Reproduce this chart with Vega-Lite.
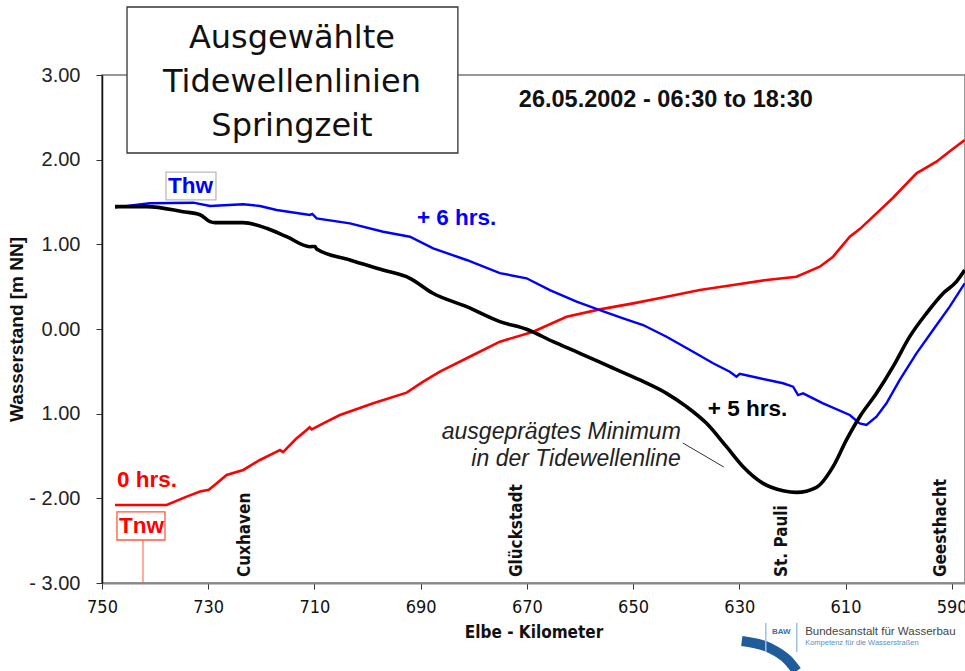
{
  "$schema": "https://vega.github.io/schema/vega-lite/v6.json",
  "width": 863,
  "height": 508,
  "autosize": {"type": "none"},
  "padding": {"left": 102, "top": 75, "right": 0, "bottom": 88},
  "background": "white",
  "config": {
    "view": {"stroke": "#777777", "strokeWidth": 1.5},
    "font": "Liberation Sans"
  },
  "datasets": {
    "red": [
      {"km": 747.55, "w": -2.079}, {"km": 737.82, "w": -2.079}, {"km": 734.06, "w": -1.98},
      {"km": 731.55, "w": -1.92}, {"km": 729.9, "w": -1.9}, {"km": 728.73, "w": -1.84},
      {"km": 726.53, "w": -1.724}, {"km": 723.4, "w": -1.665}, {"km": 720.26, "w": -1.547},
      {"km": 717.75, "w": -1.468}, {"km": 716.5, "w": -1.43}, {"km": 715.9, "w": -1.455},
      {"km": 713.5, "w": -1.3}, {"km": 711.47, "w": -1.193}, {"km": 710.9, "w": -1.16},
      {"km": 710.5, "w": -1.185}, {"km": 707.7, "w": -1.095}, {"km": 705.2, "w": -1.016},
      {"km": 698.93, "w": -0.878}, {"km": 692.64, "w": -0.752}, {"km": 689.52, "w": -0.622},
      {"km": 686.38, "w": -0.504}, {"km": 680.11, "w": -0.307}, {"km": 675.08, "w": -0.15},
      {"km": 668.81, "w": -0.032}, {"km": 662.53, "w": 0.145}, {"km": 656.26, "w": 0.232},
      {"km": 649.99, "w": 0.303}, {"km": 643.7, "w": 0.382}, {"km": 637.44, "w": 0.461},
      {"km": 631.17, "w": 0.52}, {"km": 624.88, "w": 0.579}, {"km": 619.23, "w": 0.618},
      {"km": 614.85, "w": 0.736}, {"km": 612.34, "w": 0.854}, {"km": 609.2, "w": 1.09},
      {"km": 607.32, "w": 1.18}, {"km": 604.17, "w": 1.366}, {"km": 601.05, "w": 1.55},
      {"km": 596.64, "w": 1.839}, {"km": 592.88, "w": 1.976}, {"km": 590.06, "w": 2.114},
      {"km": 587.55, "w": 2.232}
    ],
    "blue": [
      {"km": 747.55, "w": 1.437}, {"km": 740.96, "w": 1.485}, {"km": 732.81, "w": 1.492},
      {"km": 729.66, "w": 1.453}, {"km": 723.4, "w": 1.473}, {"km": 720.26, "w": 1.453},
      {"km": 717.12, "w": 1.406}, {"km": 710.85, "w": 1.347}, {"km": 710.4, "w": 1.36},
      {"km": 709.58, "w": 1.307}, {"km": 703.32, "w": 1.248}, {"km": 697.05, "w": 1.149},
      {"km": 692.02, "w": 1.09}, {"km": 687.64, "w": 0.953}, {"km": 681.35, "w": 0.815},
      {"km": 675.08, "w": 0.66}, {"km": 670.06, "w": 0.599}, {"km": 665.67, "w": 0.46},
      {"km": 660.64, "w": 0.323}, {"km": 656.26, "w": 0.224}, {"km": 651.87, "w": 0.126},
      {"km": 648.11, "w": 0.047}, {"km": 643.7, "w": -0.091}, {"km": 638.7, "w": -0.268},
      {"km": 634.93, "w": -0.405}, {"km": 631.79, "w": -0.504}, {"km": 630.53, "w": -0.563},
      {"km": 629.91, "w": -0.53}, {"km": 626.14, "w": -0.582}, {"km": 621.76, "w": -0.641},
      {"km": 619.87, "w": -0.681}, {"km": 618.93, "w": -0.78}, {"km": 617.99, "w": -0.76},
      {"km": 614.23, "w": -0.878}, {"km": 609.2, "w": -1.016}, {"km": 607.32, "w": -1.114},
      {"km": 606.06, "w": -1.134}, {"km": 604.17, "w": -1.036}, {"km": 602.29, "w": -0.878},
      {"km": 599.79, "w": -0.602}, {"km": 596.64, "w": -0.287}, {"km": 593.52, "w": -0.012},
      {"km": 590.38, "w": 0.264}, {"km": 587.55, "w": 0.54}
    ],
    "black": [
      {"km": 747.55, "w": 1.445}, {"km": 741.59, "w": 1.445}, {"km": 734.75, "w": 1.386},
      {"km": 731.55, "w": 1.35}, {"km": 729.67, "w": 1.268}, {"km": 728.73, "w": 1.256},
      {"km": 723.46, "w": 1.256}, {"km": 719.0, "w": 1.19}, {"km": 715.23, "w": 1.09},
      {"km": 710.85, "w": 0.972}, {"km": 709.9, "w": 0.975}, {"km": 709.59, "w": 0.945},
      {"km": 703.32, "w": 0.815}, {"km": 697.11, "w": 0.697}, {"km": 692.02, "w": 0.599},
      {"km": 687.69, "w": 0.422}, {"km": 681.35, "w": 0.264}, {"km": 675.08, "w": 0.087},
      {"km": 670.06, "w": -0.003}, {"km": 665.05, "w": -0.15}, {"km": 660.02, "w": -0.287},
      {"km": 654.38, "w": -0.445}, {"km": 648.73, "w": -0.602}, {"km": 643.7, "w": -0.76},
      {"km": 639.94, "w": -0.917}, {"km": 636.17, "w": -1.114}, {"km": 632.41, "w": -1.39},
      {"km": 629.28, "w": -1.626}, {"km": 625.52, "w": -1.823}, {"km": 621.76, "w": -1.91},
      {"km": 619.23, "w": -1.93}, {"km": 615.47, "w": -1.87}, {"km": 612.34, "w": -1.626},
      {"km": 609.82, "w": -1.31}, {"km": 607.32, "w": -1.036}, {"km": 604.17, "w": -0.76},
      {"km": 601.05, "w": -0.445}, {"km": 597.91, "w": -0.09}, {"km": 594.76, "w": 0.185},
      {"km": 591.64, "w": 0.42}, {"km": 589.12, "w": 0.559}, {"km": 587.55, "w": 0.697}
    ]
  },
  "encoding": {
    "x": {
      "field": "km",
      "type": "quantitative",
      "scale": {"domain": [750, 587.5], "nice": false, "zero": false},
      "axis": {
        "title": "Elbe - Kilometer",
        "values": [750, 730, 710, 690, 670, 650, 630, 610, 590],
        "format": "d",
        "grid": false,
        "labelFont": "DejaVu Sans Condensed, Roboto, sans-serif",
        "labelFontSize": 18,
        "labelColor": "#111111",
        "labelPadding": 9,
        "labelFlush": false,
        "labelOverlap": false,
        "tickSize": 6,
        "tickColor": "#333333",
        "tickWidth": 1,
        "domainColor": "#888888",
        "domainWidth": 2,
        "titleFont": "DejaVu Sans Condensed, Roboto, sans-serif",
        "titleFontSize": 17,
        "titleFontWeight": "bold",
        "titleColor": "#111111",
        "titlePadding": 8
      }
    },
    "y": {
      "field": "w",
      "type": "quantitative",
      "scale": {"domain": [-3, 3], "nice": false, "zero": false},
      "axis": {
        "title": "Wasserstand [m NN]",
        "values": [-3, -2, -1, 0, 1, 2, 3],
        "labelExpr": "datum.value < -1.5 ? '- ' + format(abs(datum.value), '.2f') : format(abs(datum.value), '.2f')",
        "grid": false,
        "labelFont": "Liberation Sans",
        "labelFontSize": 20,
        "labelColor": "#222222",
        "labelPadding": 16,
        "labelFlush": false,
        "tickSize": 6,
        "tickColor": "#333333",
        "domainColor": "#111111",
        "domainWidth": 1.5,
        "titleFont": "Liberation Sans",
        "titleFontSize": 19,
        "titleFontWeight": "bold",
        "titleColor": "#111111",
        "titlePadding": 2
      }
    }
  },
  "layer": [
    {
      "data": {"values": [{"km": 590}]},
      "mark": {"type": "rule", "color": "#444444", "strokeWidth": 1.5},
      "encoding": {"y": {"datum": -3}, "y2": {"datum": 3}}
    },
    {
      "data": {"values": [
        {"kind": "title", "km": 745.29, "km2": 682.99, "w": 3.803, "w2": 2.079},
        {"kind": "thw", "km": 737.95, "km2": 728.54, "w": 1.854, "w2": 1.524},
        {"kind": "tnw", "km": 747.18, "km2": 738.14, "w": -2.161, "w2": -2.492}
      ]},
      "mark": {"type": "rect", "fill": "white", "strokeWidth": 1.3},
      "encoding": {
        "x2": {"field": "km2"},
        "y2": {"field": "w2"},
        "stroke": {"field": "kind", "type": "nominal", "scale": {"domain": ["title", "thw", "tnw"], "range": ["#333333", "#bbbbbb", "#ff5a3c"]}, "legend": null}
      }
    },
    {
      "data": {"values": [{"km": 742.28, "w": -2.492, "w2": -3}]},
      "mark": {"type": "rule", "color": "#ff5a3c", "strokeWidth": 1},
      "encoding": {"y2": {"field": "w2"}}
    },
    {
      "data": {"values": [{"km": 640.64, "w": -1.346}, {"km": 632.92, "w": -1.63}]},
      "mark": {"type": "line", "color": "#333333", "strokeWidth": 1}
    },
    {
      "data": {"name": "red"},
      "mark": {"type": "line", "color": "#ff0000", "strokeWidth": 2.6}
    },
    {
      "data": {"name": "blue"},
      "mark": {"type": "line", "color": "#0000ff", "strokeWidth": 2.4}
    },
    {
      "data": {"name": "black"},
      "mark": {"type": "line", "color": "#000000", "strokeWidth": 3.6, "interpolate": "monotone"}
    },
    {
      "data": {"values": [
        {"label": "Ausgewählte", "km": 714.24, "w": 3.319},
        {"label": "Tidewellenlinien", "km": 714.24, "w": 2.799},
        {"label": "Springzeit", "km": 714.24, "w": 2.28}
      ]},
      "mark": {"type": "text", "font": "DejaVu Sans", "fontSize": 32, "color": "#111111", "align": "center", "baseline": "alphabetic"},
      "encoding": {"text": {"field": "label"}}
    },
    {
      "data": {"values": [{"label": "26.05.2002 - 06:30 to 18:30", "km": 643.84, "w": 2.705}]},
      "mark": {"type": "text", "font": "Liberation Sans", "fontSize": 23.5, "fontWeight": "bold", "color": "#111111", "align": "center", "baseline": "middle"},
      "encoding": {"text": {"field": "label"}}
    },
    {
      "data": {"values": [
        {"label": "Thw", "km": 737.58, "w": 1.689, "series": "blue"},
        {"label": "+ 6 hrs.", "km": 690.71, "w": 1.311, "series": "blue"},
        {"label": "+ 5 hrs.", "km": 635.93, "w": -0.945, "series": "black"},
        {"label": "0 hrs.", "km": 747.18, "w": -1.783, "series": "red"},
        {"label": "Tnw", "km": 746.8, "w": -2.327, "series": "red"}
      ]},
      "mark": {"type": "text", "font": "Liberation Sans", "fontSize": 22.5, "fontWeight": "bold", "align": "left", "baseline": "middle"},
      "encoding": {
        "text": {"field": "label"},
        "color": {"field": "series", "type": "nominal", "scale": {"domain": ["red", "blue", "black"], "range": ["#ff0000", "#0000ff", "#000000"]}, "legend": null}
      }
    },
    {
      "data": {"values": [
        {"label": "ausgeprägtes Minimum", "km": 641.01, "w": -1.216},
        {"label": "in der  Tidewellenline", "km": 641.01, "w": -1.535}
      ]},
      "mark": {"type": "text", "font": "Liberation Sans", "fontSize": 23, "fontStyle": "italic", "color": "#222222", "align": "right", "baseline": "middle"},
      "encoding": {"text": {"field": "label"}}
    },
    {
      "data": {"values": [
        {"label": "Cuxhaven", "km": 723.1, "w": -2.93},
        {"label": "Glückstadt", "km": 671.9, "w": -2.93},
        {"label": "St. Pauli", "km": 622.0, "w": -2.93},
        {"label": "Geesthacht", "km": 592.1, "w": -2.93}
      ]},
      "mark": {"type": "text", "font": "DejaVu Sans Condensed, Roboto, sans-serif", "fontSize": 17, "fontWeight": "bold", "color": "#111111", "angle": 270, "align": "left", "baseline": "middle"},
      "encoding": {"text": {"field": "label"}}
    },
    {
      "data": {"values": [{"km": 629.53, "w": -3.685}, {"km": 624.26, "w": -3.768}, {"km": 620.87, "w": -3.91}, {"km": 619.18, "w": -4.04}]},
      "mark": {"type": "line", "color": "#1f5c99", "strokeWidth": 10, "interpolate": "monotone"}
    },
    {
      "data": {"values": [{"km": 625.01, "w": -3.472, "w2": -3.815}, {"km": 619.18, "w": -3.472, "w2": -3.815}]},
      "mark": {"type": "rule", "color": "#9fc0e0", "strokeWidth": 1.5},
      "encoding": {"y2": {"field": "w2"}}
    },
    {
      "data": {"values": [{"label": "BAW", "km": 622.1, "w": -3.578}]},
      "mark": {"type": "text", "font": "Liberation Sans", "fontSize": 8, "fontWeight": "bold", "color": "#3d6fa8", "align": "center", "baseline": "middle"},
      "encoding": {"text": {"field": "label"}}
    },
    {
      "data": {"values": [{"label": "Bundesanstalt für Wasserbau", "km": 617.6, "w": -3.578}]},
      "mark": {"type": "text", "font": "Liberation Sans", "fontSize": 11.5, "color": "#444444", "align": "left", "baseline": "middle"},
      "encoding": {"text": {"field": "label"}}
    },
    {
      "data": {"values": [{"label": "Kompetenz für die Wasserstraßen", "km": 617.6, "w": -3.708}]},
      "mark": {"type": "text", "font": "Liberation Sans", "fontSize": 7.5, "color": "#5b8fc7", "align": "left", "baseline": "middle"},
      "encoding": {"text": {"field": "label"}}
    }
  ]
}
